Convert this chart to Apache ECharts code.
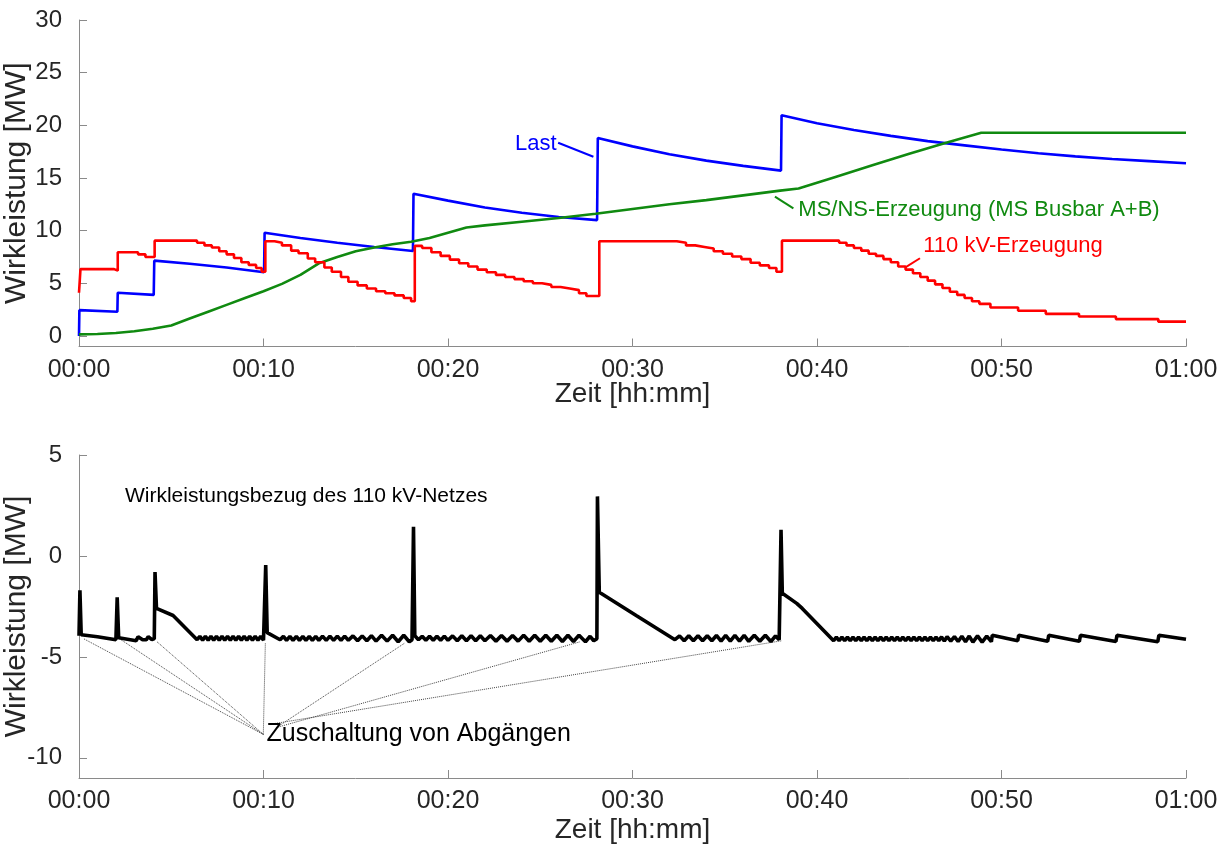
<!DOCTYPE html>
<html><head><meta charset="utf-8">
<style>html,body{margin:0;padding:0;background:#fff}#c{width:1230px;height:847px}</style>
<script src="https://cdn.jsdelivr.net/npm/echarts@6.0.0/dist/echarts.min.js"></script>
</head><body><div id="c"></div>
<script>
// ---- data (time in minutes, power in MW) ----
const xTicks = [0, 10, 20, 30, 40, 50, 60];
const xTickLabels = ['00:00', '00:10', '00:20', '00:30', '00:40', '00:50', '01:00'];
const topYTicks = [0, 5, 10, 15, 20, 25, 30];
const botYTicks = [-10, -5, 0, 5];

const lastLoad = [[0,0],[0.02,2.45],[2.08,2.3],[2.1,4.1],[4.05,3.9],[4.08,7.15],[6,6.85],[8,6.5],[10.03,6.05],[10.06,9.8],[12,9.3],[14,8.85],[16,8.45],[18.1,8.07],[18.13,13.5],[20,12.85],[22,12.2],[24,11.7],[26,11.3],[28.08,11.0],[28.12,18.8],[30,18.0],[32,17.25],[34,16.65],[36,16.15],[38.05,15.7],[38.08,20.95],[40,20.2],[42,19.55],[44,19.0],[46,18.5],[48,18.1],[50,17.7],[52,17.35],[54,17.05],[56,16.8],[58,16.6],[60,16.4]];

const msNsGen = [[0,0.15],[1,0.18],[2,0.28],[3,0.45],[4,0.68],[5,1.0],[6,1.65],[7,2.3],[8,2.95],[9,3.6],[10,4.25],[11,4.95],[12,5.8],[13,6.9],[14,7.5],[15,8.05],[16,8.4],[17,8.7],[18,8.95],[19,9.3],[20,9.8],[21,10.3],[22,10.5],[24,10.85],[26,11.2],[28,11.6],[30,12.05],[32,12.5],[34,12.9],[36,13.35],[38,13.8],[39,14.0],[41,15.1],[43,16.2],[45,17.3],[47,18.35],[48.9,19.3],[60,19.3]];

const gen110 = [[0,4.1],[0.08,6.35],[1.9,6.2],[2.1,7.95],[3.2,7.75],[3.6,7.5],[4.1,9.05],[6.4,8.85],[6.8,8.6],[7.2,8.4],[7.6,8.05],[8.0,7.75],[8.4,7.4],[8.8,7.0],[9.2,6.75],[9.6,6.45],[9.9,6.1],[10.1,9.0],[10.6,8.85],[11.0,8.6],[11.5,8.1],[11.9,7.85],[12.4,7.35],[12.8,7.0],[13.3,6.5],[13.7,6.1],[14.2,5.6],[14.6,5.15],[15.1,4.8],[15.6,4.5],[16.1,4.25],[16.6,4.05],[17.1,3.85],[17.6,3.6],[18.0,3.3],[18.2,8.55],[18.6,8.35],[19.1,7.95],[19.6,7.6],[20.1,7.25],[20.6,6.9],[21.1,6.6],[21.6,6.3],[22.1,6.05],[22.6,5.8],[23.1,5.6],[23.6,5.4],[24.1,5.2],[24.6,5.0],[25.1,4.85],[25.6,4.65],[26.1,4.5],[26.6,4.35],[27.1,4.05],[27.5,3.8],[28.2,9.0],[32.4,8.85],[32.9,8.6],[33.4,8.45],[33.9,8.3],[34.4,8.05],[34.9,7.8],[35.4,7.55],[35.9,7.3],[36.4,6.95],[36.9,6.7],[37.4,6.45],[37.8,6.1],[38.1,9.05],[41.2,8.85],[41.6,8.6],[42.0,8.35],[42.4,8.1],[42.8,7.8],[43.2,7.6],[43.6,7.3],[44.0,7.0],[44.4,6.6],[44.8,6.3],[45.2,5.95],[45.6,5.6],[46.0,5.25],[46.4,4.9],[46.8,4.55],[47.2,4.2],[47.6,3.9],[48.0,3.6],[48.4,3.3],[48.8,3.05],[49.4,2.7],[50.9,2.4],[52.4,2.1],[54.2,1.85],[56.2,1.6],[58.5,1.36],[60,1.36]];

const netImport = [[0,-3.95],[0.05,-1.7],[0.12,-3.9],[1.0,-4.0],[2.0,-4.15],[2.07,-2.05],[2.15,-4.05],[3.1,-4.2],[3.2,-4.0],[3.45,-4.15],[3.65,-4.15],[3.75,-4.0],[3.95,-4.15],[4.08,-4.1],[4.12,-0.8],[4.2,-2.6],[5.1,-2.95],[6.4,-4.15],
[6.55,-3.98],[6.7,-4.18],[6.85,-3.98],[7.0,-4.18],[7.15,-3.98],[7.3,-4.18],[7.45,-3.98],[7.6,-4.18],[7.75,-3.98],[7.9,-4.18],[8.05,-3.98],[8.2,-4.18],[8.35,-3.98],[8.5,-4.18],[8.65,-3.98],[8.8,-4.18],[8.95,-3.98],[9.1,-4.18],[9.25,-3.98],[9.4,-4.18],[9.55,-3.98],[9.7,-4.18],[9.85,-3.98],[10.0,-4.18],
[10.08,-4.1],[10.12,-0.45],[10.2,-3.8],[10.9,-4.15],
[11.08,-3.98],[11.25,-4.18],[11.43,-3.98],[11.6,-4.18],[11.78,-3.98],[11.95,-4.18],[12.13,-3.98],[12.3,-4.18],[12.48,-3.98],[12.65,-4.18],[12.83,-3.98],[13.0,-4.18],[13.2,-3.97],[13.4,-4.18],[13.6,-3.97],[13.8,-4.18],[14.0,-3.97],[14.2,-4.18],[14.4,-3.97],[14.6,-4.18],[14.85,-3.96],[15.1,-4.2],[15.35,-3.96],[15.6,-4.2],[15.85,-3.95],[16.1,-4.22],[16.4,-3.93],[16.7,-4.22],[17.0,-3.93],[17.3,-4.25],[17.6,-3.93],[17.9,-4.25],[18.05,-4.15],
[18.1,-4.1],[18.13,1.45],[18.2,-3.95],
[18.4,-4.15],[18.6,-3.98],[18.8,-4.18],[19.0,-3.98],[19.2,-4.18],[19.4,-3.98],[19.6,-4.18],[19.8,-3.97],[20.0,-4.18],[20.25,-3.96],[20.5,-4.2],[20.75,-3.95],[21.0,-4.2],[21.25,-3.95],[21.5,-4.2],[21.75,-3.95],[22.0,-4.2],[22.3,-3.94],[22.6,-4.22],[22.9,-3.94],[23.2,-4.22],[23.5,-3.94],[23.8,-4.22],[24.1,-3.93],[24.4,-4.23],[24.7,-3.93],[25.0,-4.23],[25.3,-3.93],[25.6,-4.23],[25.9,-3.93],[26.2,-4.24],[26.5,-3.93],[26.8,-4.24],[27.1,-3.93],[27.45,-4.25],[27.7,-3.98],[27.9,-4.2],[28.07,-4.1],
[28.1,2.95],[28.2,-1.8],[30.2,-2.95],[32.3,-4.15],
[32.55,-3.96],[32.8,-4.2],[33.05,-3.95],[33.3,-4.2],[33.55,-3.95],[33.8,-4.2],[34.05,-3.95],[34.3,-4.2],[34.55,-3.94],[34.8,-4.22],[35.05,-3.94],[35.3,-4.22],[35.55,-3.94],[35.8,-4.22],[36.05,-3.93],[36.3,-4.23],[36.6,-3.93],[36.9,-4.23],[37.2,-3.93],[37.5,-4.24],[37.75,-3.96],[37.95,-4.15],
[38.02,-4.1],[38.05,1.3],[38.12,-1.85],[38.9,-2.35],[39.2,-2.6],[40.9,-4.2],
[41.05,-4.02],[41.2,-4.2],[41.35,-4.02],[41.5,-4.2],[41.65,-4.02],[41.8,-4.2],[41.95,-4.02],[42.1,-4.2],[42.25,-4.02],[42.4,-4.2],[42.55,-4.02],[42.7,-4.2],[42.85,-4.02],[43.0,-4.2],[43.15,-4.02],[43.3,-4.2],[43.45,-4.02],[43.6,-4.2],[43.75,-4.02],[43.9,-4.2],[44.05,-4.02],[44.2,-4.2],[44.35,-4.02],[44.5,-4.2],[44.65,-4.02],[44.8,-4.2],[44.95,-4.02],[45.1,-4.2],[45.25,-4.02],[45.4,-4.2],[45.55,-4.02],[45.7,-4.2],[45.85,-4.02],[46.0,-4.2],[46.15,-4.02],[46.3,-4.2],[46.45,-4.02],[46.6,-4.2],[46.75,-4.01],[46.9,-4.22],[47.05,-4.0],[47.25,-4.22],[47.45,-4.0],[47.65,-4.24],[47.85,-3.98],[48.05,-4.25],[48.25,-3.97],[48.45,-4.27],[48.7,-3.96],[48.95,-4.27],[49.2,-3.97],[49.45,-4.25],
[49.5,-3.93],[50.88,-4.2],[50.93,-3.93],[52.5,-4.23],[52.56,-3.93],[54.22,-4.23],[54.28,-3.93],[56.2,-4.24],[56.26,-3.93],[58.47,-4.25],[58.53,-3.93],[60,-4.13]];

// annotation anchors (data coordinates)
const switchOnFrom = [[9.99,-8.84],[9.99,-8.84],[9.99,-8.84],[9.99,-8.84],[10.7,-8.5],[10.7,-8.5],[10.62,-8.3]];
const switchOnTo = [[0.23,-4.09],[2.26,-4.14],[4.2,-4.23],[10.1,-4.32],[17.65,-4.32],[27.13,-4.26],[38.1,-4.2]];

const FONT = 'Liberation Sans, Arial, sans-serif';
const AX = '#8a8a8a';
const TXT = '#262626';

function xAxisCfg(gi, gap) {
  return {
    type: 'value', gridIndex: gi, min: 0, max: 60, interval: 10,
    axisLine: { show: true, onZero: false, lineStyle: { color: AX, width: 1 } },
    axisTick: { show: true, inside: true, length: 8, lineStyle: { color: AX } },
    axisLabel: { fontSize: 25, color: TXT, fontFamily: FONT, margin: 11,
      formatter: v => xTickLabels[xTicks.indexOf(v)] },
    splitLine: { show: false },
    name: 'Zeit [hh:mm]', nameLocation: 'middle', nameGap: gap, nameMoveOverlap: false,
    nameTextStyle: { fontSize: 28, color: TXT, fontFamily: FONT }
  };
}
function yAxisCfg(gi, min, max, ticks) {
  return {
    type: 'value', gridIndex: gi, min: min, max: max,
    axisLine: { show: true, onZero: false, lineStyle: { color: AX, width: 1 } },
    axisTick: { show: true, inside: true, length: 8, lineStyle: { color: AX }, customValues: ticks },
    axisLabel: { fontSize: 24, color: TXT, fontFamily: FONT, margin: 17, customValues: ticks },
    splitLine: { show: false },
    name: 'Wirkleistung [MW]', nameLocation: 'middle', nameGap: 47, nameRotate: 90, nameMoveOverlap: false,
    nameTextStyle: { fontSize: 30, color: TXT, fontFamily: FONT }
  };
}
function textSeries(gi, pos, text, color, size) {
  return {
    type: 'scatter', xAxisIndex: gi, yAxisIndex: gi, symbolSize: 0, silent: true,
    data: [pos],
    itemStyle: { opacity: 1 },
    label: { show: true, position: 'right', distance: 0, formatter: text, opacity: 1,
      color: color, fontSize: size, fontFamily: FONT },
    z: 10
  };
}
function pointer(gi, a, b, color) {
  return {
    type: 'line', xAxisIndex: gi, yAxisIndex: gi, data: [a, b], symbol: 'none', silent: true,
    lineStyle: { color: color, width: 2 }, z: 9
  };
}

const chart = echarts.init(document.getElementById('c'), null, { renderer: 'canvas' });
chart.setOption({
  animation: false,
  backgroundColor: '#fff',
  grid: [
    { left: 79, right: 44, top: 20, height: 326.5, containLabel: false, outerBoundsMode: 'none' },
    { left: 79, right: 44, top: 455, height: 323, containLabel: false, outerBoundsMode: 'none' }
  ],
  xAxis: [xAxisCfg(0, 34), xAxisCfg(1, 38)],
  yAxis: [yAxisCfg(0, -1, 30, topYTicks), yAxisCfg(1, -11, 5, botYTicks)],
  series: [
    { type: 'line', name: 'Last', xAxisIndex: 0, yAxisIndex: 0, data: lastLoad, symbol: 'none',
      lineStyle: { color: '#0000ff', width: 2.6 }, z: 3 },
    { type: 'line', name: 'MS/NS-Erzeugung', xAxisIndex: 0, yAxisIndex: 0, data: msNsGen, symbol: 'none',
      lineStyle: { color: '#108a10', width: 2.6 }, z: 4 },
    { type: 'line', name: '110 kV-Erzeugung', xAxisIndex: 0, yAxisIndex: 0, data: gen110, symbol: 'none',
      step: 'end', lineStyle: { color: '#ff0000', width: 2.6 }, z: 5 },
    { type: 'line', name: 'Bezug', xAxisIndex: 1, yAxisIndex: 1, data: netImport, symbol: 'none',
      lineStyle: { color: '#000', width: 3.6 }, z: 5,
      markLine: { silent: true, symbol: ['none', 'none'], label: { show: false },
        lineStyle: { type: 'dotted', color: '#444', width: 1 },
        data: switchOnFrom.map((f, i) => [{ coord: f }, { coord: switchOnTo[i] }]) } },
    pointer(0, [25.97, 18.35], [27.88, 17.02], '#0000ff'),
    pointer(0, [37.72, 13.23], [38.72, 12.12], '#108a10'),
    pointer(0, [44.77, 6.49], [45.58, 7.38], '#ff0000'),
    textSeries(0, [23.63, 18.2], 'Last', '#0000ff', 22),
    textSeries(0, [38.99, 11.95], 'MS/NS-Erzeugung (MS Busbar A+B)', '#108a10', 22),
    textSeries(0, [45.76, 8.55], '110 kV-Erzeugung', '#ff0000', 22),
    textSeries(1, [2.49, 2.97], 'Wirkleistungsbezug des 110 kV-Netzes', '#000', 21),
    textSeries(1, [10.16, -8.85], 'Zuschaltung von Abgängen', '#000', 25)
  ]
});
</script></body></html>
